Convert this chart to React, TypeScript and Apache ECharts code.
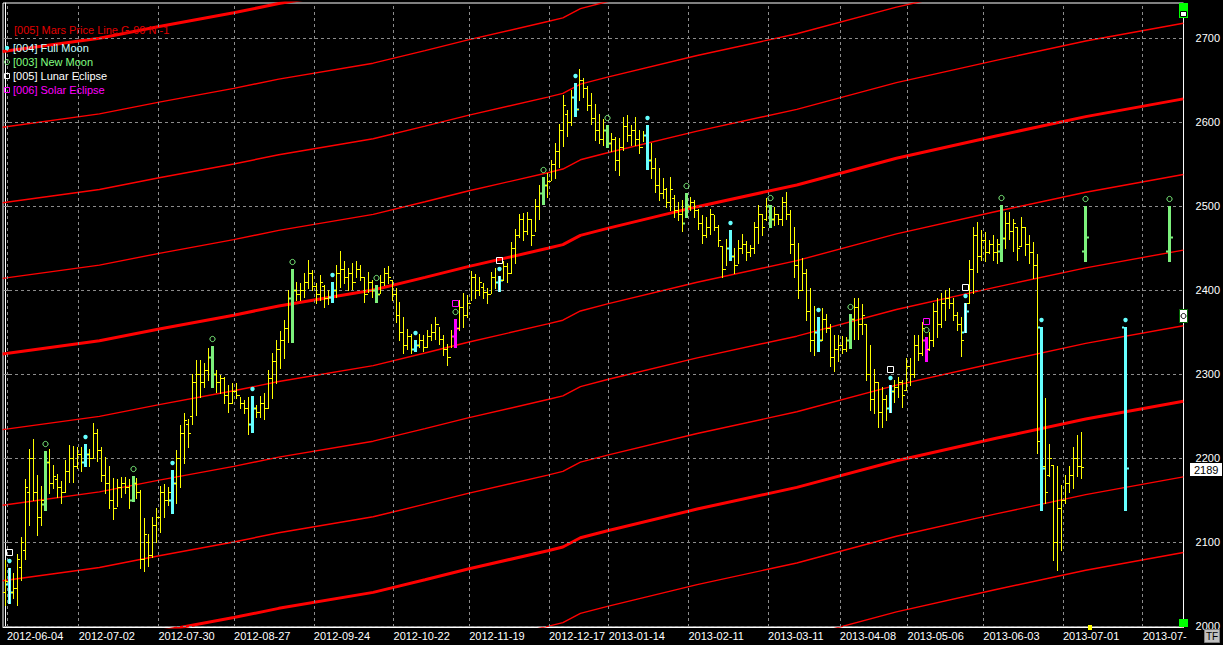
import React, { useEffect, useRef } from 'react';
import * as echarts from 'echarts';

// ---- Price bars (index = trading bar number, 0 = 2012-06-01) ----
const highs = [
  2079, 2069, 2063, 2086, 2106, 2175, 2211, 2223, 2180, 2167,
  2208, 2211, 2192, 2181, 2173, 2198, 2215, 2214, 2213, 2213,
  2217, 2211, 2242, 2235, 2213, 2201, 2190, 2176, 2175, 2177,
  2177, 2175, 2178, 2176, 2162, 2129, 2109, 2130, 2140, 2167,
  2169, 2165, 2186, 2210, 2239, 2253, 2247, 2300, 2317, 2317,
  2313, 2331, 2333, 2305, 2299, 2297, 2287, 2289, 2289, 2273,
  2269, 2273, 2274, 2263, 2274, 2277, 2305, 2325, 2341, 2351,
  2364, 2400, 2425, 2410, 2408, 2420, 2436, 2424, 2408, 2418,
  2406, 2400, 2410, 2430, 2446, 2434, 2426, 2432, 2434, 2430,
  2415, 2422, 2412, 2406, 2418, 2426, 2428, 2412, 2402, 2386,
  2368, 2354, 2348, 2340, 2348, 2346, 2352, 2360, 2368, 2356,
  2346, 2336, 2352, 2366, 2388, 2396, 2394, 2423, 2419, 2416,
  2408, 2402, 2422, 2426, 2417, 2434, 2432, 2457, 2473, 2491,
  2492, 2493, 2485, 2508, 2525, 2535, 2539, 2555, 2575, 2598,
  2632, 2614, 2638, 2647, 2663, 2652, 2643, 2634, 2622, 2610,
  2604, 2596, 2587, 2582, 2581, 2606, 2608, 2596, 2606, 2590,
  2589, 2596, 2575, 2557, 2545, 2533, 2521, 2535, 2513, 2505,
  2507, 2515, 2511, 2507, 2497, 2489, 2487, 2497, 2489, 2477,
  2452, 2461, 2471, 2450, 2460, 2467, 2458, 2454, 2481, 2501,
  2491, 2509, 2501, 2499, 2491, 2511, 2517, 2495, 2475, 2456,
  2438, 2425, 2402, 2381, 2368, 2378, 2372, 2360, 2346, 2346,
  2345, 2344, 2372, 2390, 2390, 2383, 2359, 2334, 2306, 2291,
  2285, 2275, 2287, 2293, 2297, 2293, 2319, 2319, 2346, 2346,
  2362, 2344, 2350, 2384, 2390, 2396, 2400, 2402, 2390, 2374,
  2368, 2384, 2436, 2475, 2481, 2471, 2469, 2460, 2465, 2461,
  2501, 2493, 2493, 2485, 2475, 2487, 2475, 2465, 2457, 2443,
  2356, 2271, 2217, 2192, 2190, 2168, 2180, 2190, 2213, 2227,
  2231,
];
const lows = [
  2025, 2027, 2033, 2025, 2055, 2080, 2120, 2150, 2108, 2120,
  2138, 2158, 2164, 2154, 2147, 2159, 2171, 2171, 2188, 2184,
  2190, 2190, 2200, 2196, 2173, 2158, 2141, 2127, 2143, 2153,
  2158, 2140, 2149, 2152, 2069, 2065, 2071, 2082, 2100, 2112,
  2130, 2144, 2134, 2146, 2166, 2194, 2213, 2240, 2251, 2273,
  2285, 2293, 2285, 2279, 2277, 2265, 2255, 2265, 2271, 2259,
  2253, 2228, 2231, 2249, 2249, 2247, 2259, 2271, 2289, 2307,
  2319, 2338, 2338, 2388, 2388, 2392, 2402, 2400, 2384, 2388,
  2380, 2383, 2386, 2392, 2404, 2408, 2400, 2401, 2416, 2412,
  2386, 2398, 2392, 2386, 2396, 2406, 2408, 2388, 2362, 2340,
  2325, 2330, 2325, 2327, 2332, 2327, 2332, 2340, 2342, 2336,
  2323, 2311, 2332, 2332, 2352, 2356, 2368, 2388, 2390, 2394,
  2390, 2384, 2396, 2402, 2399, 2412, 2410, 2420, 2432, 2463,
  2460, 2467, 2453, 2470, 2485, 2502, 2511, 2531, 2533, 2547,
  2571, 2583, 2596, 2607, 2626, 2630, 2614, 2598, 2579, 2575,
  2573, 2570, 2565, 2543, 2537, 2567, 2577, 2573, 2573, 2563,
  2577, 2544, 2533, 2517, 2507, 2509, 2499, 2495, 2487, 2483,
  2470, 2487, 2495, 2487, 2473, 2456, 2463, 2467, 2471, 2452,
  2416, 2430, 2436, 2420, 2432, 2444, 2436, 2440, 2444, 2456,
  2465, 2483, 2475, 2477, 2479, 2477, 2485, 2444, 2416, 2390,
  2400, 2364, 2327, 2323, 2327, 2340, 2350, 2309, 2303, 2315,
  2325, 2327, 2331, 2342, 2342, 2348, 2293, 2257, 2253, 2237,
  2237, 2245, 2255, 2267, 2273, 2261, 2281, 2287, 2297, 2317,
  2323, 2315, 2328, 2333, 2344, 2356, 2364, 2378, 2364, 2352,
  2321, 2350, 2384, 2396, 2422, 2436, 2434, 2444, 2436, 2432,
  2434, 2450, 2461, 2446, 2436, 2452, 2442, 2432, 2414, 2206,
  2138, 2146, 2178, 2079, 2067, 2091, 2146, 2160, 2164, 2178,
  2176,
];
const opens = [
  2040, 2050, 2040, 2045, 2070, 2090, 2160, 2200, 2160, 2130,
  2145, 2195, 2170, 2175, 2165, 2160, 2185, 2200, 2190, 2205,
  2195, 2205, 2200, 2230, 2210, 2180, 2170, 2150, 2140, 2165,
  2170, 2165, 2150, 2170, 2160, 2080, 2100, 2085, 2120, 2130,
  2160, 2150, 2150, 2170, 2200, 2230, 2240, 2250, 2290, 2300,
  2290, 2305, 2320, 2300, 2290, 2295, 2275, 2265, 2280, 2275,
  2265, 2260, 2240, 2260, 2255, 2265, 2260, 2295, 2315, 2330,
  2340, 2355, 2390, 2400, 2395, 2400, 2410, 2420, 2405, 2395,
  2405, 2390, 2392, 2400, 2420, 2425, 2415, 2420, 2410, 2425,
  2415, 2395, 2410, 2400, 2395, 2410, 2420, 2412, 2395, 2370,
  2350, 2335, 2345, 2330, 2335, 2340, 2332, 2345, 2350, 2360,
  2342, 2330, 2320, 2345, 2355, 2380, 2370, 2385, 2415, 2400,
  2404, 2398, 2395, 2415, 2410, 2412, 2428, 2420, 2450, 2465,
  2485, 2470, 2485, 2465, 2500, 2515, 2525, 2530, 2550, 2565,
  2590, 2610, 2600, 2630, 2615, 2650, 2640, 2620, 2605, 2590,
  2580, 2590, 2575, 2580, 2555, 2570, 2595, 2585, 2590, 2580,
  2570, 2585, 2555, 2545, 2525, 2515, 2520, 2505, 2510, 2495,
  2490, 2480, 2500, 2505, 2495, 2480, 2465, 2475, 2490, 2475,
  2452, 2425, 2450, 2440, 2430, 2450, 2455, 2445, 2450, 2475,
  2490, 2485, 2500, 2485, 2490, 2485, 2505, 2490, 2455, 2430,
  2400, 2420, 2375, 2340, 2350, 2340, 2365, 2355, 2320, 2330,
  2335, 2330, 2340, 2365, 2380, 2360, 2359, 2300, 2270, 2290,
  2255, 2270, 2260, 2280, 2285, 2290, 2281, 2310, 2300, 2335,
  2325, 2340, 2330, 2340, 2375, 2360, 2385, 2390, 2385, 2370,
  2360, 2350, 2384, 2425, 2465, 2440, 2460, 2445, 2455, 2445,
  2446, 2462, 2480, 2470, 2475, 2452, 2475, 2455, 2445, 2430,
  2356, 2190, 2180, 2192, 2100, 2140, 2150, 2170, 2180, 2200,
  2190,
];
const closes = [
  2053, 2040, 2045, 2080, 2100, 2165, 2200, 2160, 2130, 2150,
  2195, 2170, 2178, 2165, 2160, 2185, 2200, 2190, 2205, 2195,
  2205, 2200, 2230, 2210, 2180, 2170, 2150, 2140, 2165, 2170,
  2165, 2150, 2170, 2160, 2080, 2110, 2085, 2120, 2130, 2160,
  2150, 2160, 2170, 2200, 2230, 2245, 2230, 2290, 2300, 2290,
  2305, 2320, 2300, 2290, 2295, 2275, 2265, 2280, 2275, 2265,
  2260, 2240, 2260, 2255, 2265, 2260, 2295, 2315, 2330, 2340,
  2355, 2390, 2400, 2395, 2400, 2410, 2420, 2405, 2395, 2410,
  2390, 2392, 2400, 2420, 2425, 2415, 2420, 2410, 2425, 2415,
  2395, 2410, 2400, 2395, 2410, 2420, 2415, 2395, 2370, 2350,
  2335, 2345, 2330, 2335, 2340, 2332, 2345, 2350, 2360, 2342,
  2330, 2320, 2345, 2355, 2380, 2370, 2385, 2415, 2400, 2410,
  2398, 2395, 2415, 2410, 2412, 2428, 2420, 2450, 2465, 2485,
  2470, 2485, 2465, 2500, 2515, 2525, 2530, 2550, 2565, 2590,
  2620, 2600, 2630, 2615, 2650, 2640, 2620, 2605, 2590, 2580,
  2590, 2575, 2580, 2555, 2570, 2595, 2585, 2590, 2580, 2570,
  2585, 2555, 2545, 2525, 2515, 2520, 2505, 2520, 2495, 2490,
  2480, 2500, 2505, 2495, 2480, 2465, 2475, 2490, 2475, 2460,
  2425, 2450, 2440, 2430, 2450, 2455, 2445, 2450, 2475, 2490,
  2475, 2500, 2485, 2490, 2485, 2505, 2490, 2455, 2430, 2400,
  2420, 2375, 2340, 2350, 2340, 2365, 2355, 2320, 2330, 2335,
  2330, 2340, 2365, 2380, 2360, 2370, 2300, 2270, 2290, 2255,
  2270, 2260, 2280, 2285, 2290, 2275, 2310, 2300, 2335, 2325,
  2355, 2330, 2340, 2375, 2360, 2385, 2390, 2385, 2370, 2360,
  2340, 2375, 2425, 2465, 2440, 2460, 2445, 2455, 2445, 2455,
  2462, 2480, 2470, 2480, 2450, 2475, 2455, 2445, 2430, 2220,
  2188, 2160, 2200, 2100, 2140, 2150, 2170, 2180, 2200, 2190,
  2189,
];

// projected lunar-phase bars beyond the last traded bar
const projectedBars = [271, 281, 292];
const projectedHighs = [2500, 2356, 2500];
const projectedLows = [2434, 2138, 2434];
const projectedOpens = [2446, 2356, 2446];
const projectedCloses = [2463, 2188, 2463];

// lunar events (bar numbers)
const fullMoonBars = [20, 42, 62, 82, 103, 143, 161, 182, 204, 260, 281];
const newMoonBars = [10, 32, 52, 72, 93, 135, 151, 171, 192, 212, 250, 271, 292];
const lunarEclipseBars = [1, 124, 222, 241];
const solarEclipseBars = [113, 231];

// Mars price line (G-90) – base harmonic
const marsBars = [-0.6, 23.7, 38.7, 57.4, 68.7, 92.4, 105.4, 116.2, 136.2, 140, 144.4, 151.2, 173.7, 198.7, 223.7, 248.7, 271.2, 295.7];
const marsValues = [2323.8, 2339.6, 2353.6, 2370, 2381, 2400, 2415, 2427.8, 2449.6, 2454, 2465, 2473.4, 2499.2, 2525, 2556.8, 2583.4, 2606.4, 2627.5];
const marsHarmonics = [-7, -6, -5, -4, -3, -2, -1, 0, 1, 2, 3, 4];
const marsStep = 90;

// axes
const dateTickBars = [1, 19, 39, 58, 78, 98, 117, 137, 152, 172, 192, 210, 227, 246, 266, 286];
const dateTickLabels = ['2012-06-04', '2012-07-02', '2012-07-30', '2012-08-27', '2012-09-24', '2012-10-22', '2012-11-19', '2012-12-17', '2013-01-14', '2013-02-11', '2013-03-11', '2013-04-08', '2013-05-06', '2013-06-03', '2013-07-01', '2013-07-'];
const priceTicks = [2000, 2100, 2200, 2300, 2400, 2500, 2600, 2700];
const lastPrice = 2189;

const YELLOW = '#ffff00';
const CYAN = '#66ffff';
const GREEN = '#7cf07c';
const MAGENTA = '#ff00ff';
const FONT = '"Liberation Sans", Arial, sans-serif';

export default function App() {
  const ref = useRef<HTMLDivElement>(null);

  useEffect(() => {
    document.body.style.margin = '0';
    document.body.style.background = '#000';
    const chart = echarts.init(ref.current as HTMLDivElement, null, { renderer: 'svg' });

    const typeOf = (k: number) => {
      if (lunarEclipseBars.includes(k)) return 3;
      if (solarEclipseBars.includes(k)) return 4;
      if (fullMoonBars.includes(k)) return 1;
      if (newMoonBars.includes(k)) return 2;
      return 0;
    };

    const barData: number[][] = highs.map((h, k) => [k, opens[k], h, lows[k], closes[k], typeOf(k)]);
    projectedBars.forEach((k, i) => {
      barData.push([k, projectedOpens[i], projectedHighs[i], projectedLows[i], projectedCloses[i], typeOf(k)]);
    });

    const box = (x: number, y: number, w: number, h: number, fill: string) => ({
      type: 'rect',
      shape: { x, y, width: w, height: h },
      style: { fill },
    });

    const renderBar = (params: any, api: any) => {
      const k = api.value(0);
      const t = api.value(5);
      const pH = api.coord([k, api.value(2)]);
      const pL = api.coord([k, api.value(3)]);
      const pO = api.coord([k, api.value(1)]);
      const pC = api.coord([k, api.value(4)]);
      const x = Math.round(pH[0]);
      const yH = Math.round(pH[1]);
      const yL = Math.round(pL[1]);
      const yO = Math.round(pO[1]);
      const yC = Math.round(pC[1]);
      const children: any[] = [];
      if (t === 0) {
        children.push(box(x, yH, 1, Math.max(1, yL - yH + 1), YELLOW));
        children.push(box(x - 2, yO, 2, 1, YELLOW));
        children.push(box(x + 1, yC, 2, 1, YELLOW));
      } else {
        const col = t === 4 ? MAGENTA : t === 2 ? GREEN : CYAN;
        children.push(box(x - 1, yH, 3, Math.max(1, yL - yH + 1), col));
        if (t === 3) children.push(box(x, yH, 1, Math.max(1, yL - yH + 1), '#ffffff'));
        children.push(box(x - 3, yO - 0.5, 2, 2, col));
        children.push(box(x + 2, yC - 0.5, 2, 2, col));
        const my = yH - 7;
        if (t === 1 || t === 3) {
          children.push({ type: 'circle', shape: { cx: x + 0.5, cy: my, r: 2.2 }, style: { fill: CYAN } });
        } else {
          children.push({ type: 'circle', shape: { cx: x + 0.5, cy: my, r: 2.6 }, style: { fill: 'none', stroke: GREEN, lineWidth: 1 } });
        }
        if (t === 3 || t === 4) {
          children.push({
            type: 'rect',
            shape: { x: x - 2.5, y: yH - 18.5, width: 6, height: 6 },
            style: { fill: 'none', stroke: t === 3 ? '#ffffff' : MAGENTA, lineWidth: 1 },
          });
        }
      }
      return { type: 'group', children };
    };

    const marsSeries = marsHarmonics.map((n) => ({
      type: 'line',
      name: 'Mars ' + n,
      data: marsBars.map((k, i) => [k, marsValues[i] + n * marsStep]),
      showSymbol: false,
      symbol: 'none',
      clip: true,
      silent: true,
      z: 3,
      lineStyle: { color: '#ff0000', width: n % 4 === 0 ? 3 : 1.4 },
    }));

    const option: any = {
      animation: false,
      backgroundColor: '#000',
      grid: { left: 3, right: 35, top: 3, bottom: 18, show: true, borderColor: '#ffffff', borderWidth: 1 },
      xAxis: {
        type: 'value',
        min: -0.5,
        max: 295.75,
        axisLine: { show: true, onZero: false, lineStyle: { color: '#ffffff', width: 1 } },
        axisTick: { show: false },
        splitLine: { show: false },
        axisLabel: {
          customValues: dateTickBars.map((k) => k - 0.5),
          formatter: (v: number) => {
            const i = dateTickBars.findIndex((k) => Math.abs(k - 0.5 - v) < 0.01);
            return i >= 0 ? dateTickLabels[i] : '';
          },
          align: 'left',
          color: '#ffffff',
          fontSize: 11,
          fontFamily: FONT,
          margin: 3,
        },
      },
      yAxis: {
        type: 'value',
        position: 'right',
        min: 1998.8,
        max: 2741.66,
        axisLine: { show: true, lineStyle: { color: '#ffffff', width: 1 } },
        axisTick: { show: true, customValues: priceTicks, length: 5, lineStyle: { color: '#9a9a9a' } },
        splitLine: { show: false },
        axisLabel: {
          customValues: priceTicks,
          formatter: (v: number) => String(Math.round(v)),
          color: '#ffffff',
          fontSize: 11,
          lineHeight: 11,
          fontFamily: FONT,
          margin: 12,
        },
      },
      series: [
        {
          type: 'line',
          name: 'grid',
          data: [[-10, 1500]],
          showSymbol: false,
          silent: true,
          z: 1,
          markLine: {
            silent: true,
            symbol: ['none', 'none'],
            animation: false,
            label: { show: false },
            lineStyle: { color: '#8c8c8c', type: [3, 3], width: 1 },
            data: [
              ...priceTicks.map((v) => ({ yAxis: v })),
              ...dateTickBars.map((k) => ({ xAxis: k - 0.5 })),
            ],
          },
        },
        ...marsSeries,
        {
          type: 'custom',
          name: 'bars',
          renderItem: renderBar,
          data: barData,
          encode: { x: 0, y: [1, 2, 3, 4] },
          z: 5,
          silent: true,
        },
      ],
      graphic: [
        { type: 'text', z: 100, style: { x: 14, y: 30, text: '[005] Mars Price Line G-90 N -1', fill: '#e00000', font: '11px ' + FONT, verticalAlign: 'middle' } },
        { type: 'circle', z: 100, shape: { cx: 7, cy: 48, r: 2.2 }, style: { fill: CYAN } },
        { type: 'text', z: 100, style: { x: 13, y: 48, text: '[004] Full Moon', fill: '#ccffff', font: '11px ' + FONT, verticalAlign: 'middle' } },
        { type: 'circle', z: 100, shape: { cx: 7, cy: 62, r: 2.5 }, style: { fill: 'none', stroke: GREEN, lineWidth: 1 } },
        { type: 'text', z: 100, style: { x: 13, y: 62, text: '[003] New Moon', fill: '#80ff80', font: '11px ' + FONT, verticalAlign: 'middle' } },
        { type: 'rect', z: 100, shape: { x: 4.5, y: 73.5, width: 5, height: 5 }, style: { fill: 'none', stroke: '#ffffff', lineWidth: 1 } },
        { type: 'text', z: 100, style: { x: 13, y: 76, text: '[005] Lunar Eclipse', fill: '#ffffff', font: '11px ' + FONT, verticalAlign: 'middle' } },
        { type: 'rect', z: 100, shape: { x: 4.5, y: 87.5, width: 5, height: 5 }, style: { fill: 'none', stroke: MAGENTA, lineWidth: 1 } },
        { type: 'text', z: 100, style: { x: 13, y: 90, text: '[006] Solar Eclipse', fill: MAGENTA, font: '11px ' + FONT, verticalAlign: 'middle' } },
        // last price box
        { type: 'rect', z: 100, shape: { x: 1190, y: 463, width: 32, height: 13 }, style: { fill: '#ffffff' } },
        { type: 'text', z: 101, style: { x: 1194, y: 469.5, text: String(lastPrice), fill: '#000000', font: '11px ' + FONT, lineHeight: 11, verticalAlign: 'middle' } },
        // top-right & bottom-right markers
        { type: 'rect', z: 100, shape: { x: 1179, y: 3, width: 9, height: 15 }, style: { fill: '#00ff00' } },
        { type: 'rect', z: 101, shape: { x: 1180.5, y: 11.5, width: 6, height: 5 }, style: { fill: '#ffffff', stroke: '#000000', lineWidth: 1 } },
        { type: 'rect', z: 100, shape: { x: 1179, y: 619, width: 9, height: 8 }, style: { fill: '#00ff00' } },
        { type: 'rect', z: 100, shape: { x: 1179.5, y: 309.5, width: 8, height: 13 }, style: { fill: '#ffffff', stroke: '#006600', lineWidth: 1 } },
        { type: 'circle', z: 101, shape: { cx: 1183.5, cy: 316, r: 2.5 }, style: { fill: 'none', stroke: '#000000', lineWidth: 1 } },
        { type: 'rect', z: 100, shape: { x: 1088, y: 625, width: 4, height: 5 }, style: { fill: '#ffff00' } },
        // TF button
        { type: 'rect', z: 100, shape: { x: 1204.5, y: 629.5, width: 15, height: 13 }, style: { fill: '#c0c0c0', stroke: '#808080', lineWidth: 1 } },
        { type: 'text', z: 101, style: { x: 1212, y: 636.5, text: 'TF', fill: '#000000', font: '10px ' + FONT, align: 'center', verticalAlign: 'middle' } },
      ],
    };

    chart.setOption(option);
    return () => chart.dispose();
  }, []);

  return (
    <div
      ref={ref}
      style={{ position: 'fixed', left: 0, top: 0, width: 1223, height: 645, background: '#000' }}
    />
  );
}
